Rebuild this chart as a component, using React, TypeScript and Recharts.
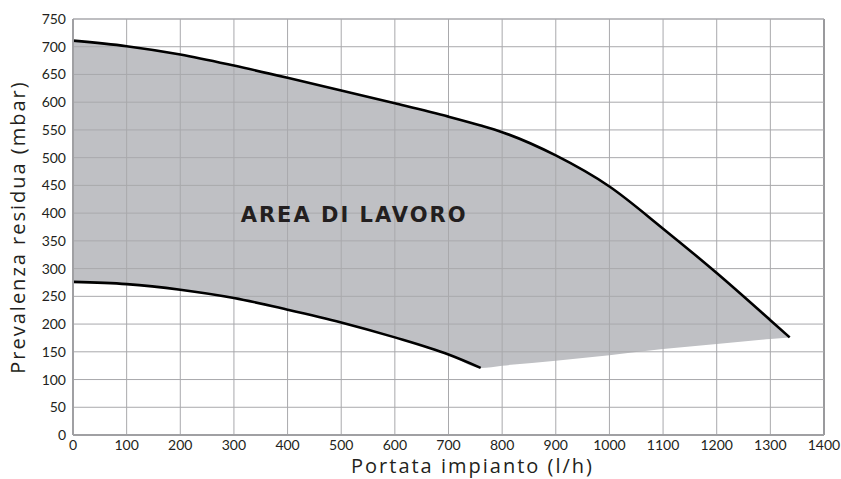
import React from 'react';
import { ComposedChart, Area, Line, XAxis, YAxis, ReferenceLine, ReferenceDot } from 'recharts';

const flow = [0, 100, 200, 300, 400, 500, 600, 700, 760, 800, 900, 1000, 1100, 1200, 1300, 1336];
const upperHead = [711, 701, 686, 666, 644, 621, 598, 574, 558, 546, 504, 448, 372, 292, 207, 176];
const lowerHead: (number | null)[] = [276, 272, 262, 247, 226, 203, 176, 145, 121, null, null, null, null, null, null, null];
const areaBase = [276, 272, 262, 247, 226, 203, 176, 145, 121, 125, 134, 144, 155, 164, 173, 176];

const xTicks = [0, 100, 200, 300, 400, 500, 600, 700, 800, 900, 1000, 1100, 1200, 1300, 1400];
const yTicks = [0, 50, 100, 150, 200, 250, 300, 350, 400, 450, 500, 550, 600, 650, 700, 750];

const data = flow.map((x, i) => ({
  x,
  upper: upperHead[i],
  lower: lowerHead[i],
  range: [areaBase[i], upperHead[i]],
}));

const tickFont = "Lato, 'Open Sans', sans-serif";
const titleFont = "'Open Sans', Lato, sans-serif";
const textColor = '#231f20';
const gridColor = '#a9a9ac';

const XTitle = (props: any) => {
  const vb = props.viewBox || { x: 0, y: 0, width: 0, height: 0 };
  return (
    <text
      x={vb.x + vb.width / 2 + 24}
      y={vb.y + vb.height - 6}
      textAnchor="middle"
      fill={textColor}
      fontSize={20}
      fontFamily={titleFont}
      style={{ letterSpacing: 2 }}
    >
      Portata impianto (l/h)
    </text>
  );
};

export default function App() {
  return (
    <div style={{ position: 'absolute', left: 0, top: 0, width: 841, height: 479, background: '#fff' }}>
      <ComposedChart width={841} height={479} data={data} margin={{ top: 19, right: 17, bottom: 0, left: 0 }}>
        <XAxis
          dataKey="x"
          type="number"
          domain={[0, 1400]}
          ticks={xTicks}
          interval={0}
          tickLine={false}
          tickSize={0}
          tickMargin={5}
          height={44}
          axisLine={{ stroke: '#a0a0a3', strokeWidth: 2 }}
          tick={{ fill: textColor, fontSize: 14, fontFamily: tickFont }}
          label={{ content: <XTitle /> }}
        />
        <YAxis
          type="number"
          domain={[0, 750]}
          ticks={yTicks}
          interval={0}
          tickLine={false}
          tickSize={0}
          tickMargin={7}
          width={73}
          axisLine={{ stroke: '#a0a0a3', strokeWidth: 2 }}
          tick={{ fill: textColor, fontSize: 14, fontFamily: tickFont }}
          label={{ value: 'Prevalenza residua (mbar)', angle: -90, position: 'insideLeft', offset: 18, fill: textColor, fontSize: 20, fontFamily: titleFont, style: { textAnchor: 'middle', letterSpacing: 2 } }}
        />
        <Area
          dataKey="range"
          type="monotone"
          fill="#bfc0c4"
          fillOpacity={1}
          stroke="none"
          isAnimationActive={false}
        />
        {xTicks.slice(1).map((t) => (
          <ReferenceLine key={'x' + t} x={t} stroke={t === 1400 ? '#9a9a9d' : gridColor} strokeWidth={t === 1400 ? 2 : 1} />
        ))}
        {yTicks.slice(1).map((t) => (
          <ReferenceLine key={'y' + t} y={t} stroke={gridColor} strokeWidth={t === 750 ? 1.5 : 1} />
        ))}
        <Line dataKey="upper" type="monotone" stroke="#000" strokeWidth={2.6} dot={false} isAnimationActive={false} />
        <Line dataKey="lower" type="monotone" stroke="#000" strokeWidth={2.6} dot={false} connectNulls={false} isAnimationActive={false} />
        <ReferenceDot
          x={524}
          y={397}
          r={0}
          fill="none"
          stroke="none"
          label={{ value: 'AREA DI LAVORO', position: 'center', fill: textColor, fontSize: 21, fontWeight: 'bold', fontFamily: "'DejaVu Sans', sans-serif", style: { letterSpacing: 2 } }}
        />
      </ComposedChart>
    </div>
  );
}
